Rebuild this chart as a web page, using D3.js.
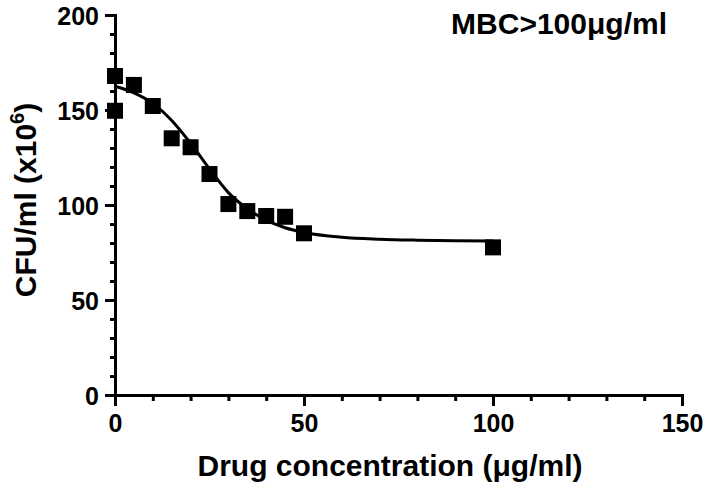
<!DOCTYPE html>
<html>
<head>
<meta charset="utf-8">
<script src="https://cdn.jsdelivr.net/npm/d3@7"></script>
<style>
  html, body { margin: 0; padding: 0; background: #fff; }
  svg text { font-family: "Liberation Sans", Arial, sans-serif; font-weight: bold; fill: #000; }
</style>
</head>
<body>
<svg id="chart" width="708" height="489"></svg>
<script>
// ---- data ----
const drugConc = [0, 0, 5, 10, 15, 20, 25, 30, 35, 40, 45, 50, 100];
const cfuValues = [167.9, 149.6, 163.2, 152.1, 135.1, 130.4, 116.3, 100.5, 96.8, 94.2, 93.8, 85.1, 77.7];
// fitted curve
const fitX = [0, 5, 10, 15, 20, 25, 30, 35, 40, 45, 50, 60, 70, 80, 90, 100];
const fitY = [162.5, 159, 153.5, 144.5, 132.5, 119, 106.5, 98, 92, 88, 85.5, 83, 82, 81.5, 81.2, 81];
const xTickValues = [0, 50, 100, 150];
const yTickValues = [0, 50, 100, 150, 200];
const xMinorTicks = d3.range(0, 151, 10);
const yMinorTicks = d3.range(0, 201, 10);
const xTitle = "Drug concentration (μg/ml)";
const annotation = "MBC>100μg/ml";

const svg = d3.select("#chart");
const x = d3.scaleLinear().domain([0, 150]).range([115, 682]);
const y = d3.scaleLinear().domain([0, 200]).range([395, 15]);

// minor ticks
svg.append("g").attr("transform", `translate(0,${y(0)})`)
  .call(d3.axisBottom(x).tickValues(xMinorTicks).tickSize(6).tickFormat(""))
  .call(g => { g.select(".domain").remove(); g.selectAll("line").attr("stroke-width", 3); });
svg.append("g").attr("transform", `translate(${x(0)},0)`)
  .call(d3.axisLeft(y).tickValues(yMinorTicks).tickSize(5).tickFormat(""))
  .call(g => { g.select(".domain").remove(); g.selectAll("line").attr("stroke-width", 3); });

// major axes
const xAxis = svg.append("g").attr("transform", `translate(0,${y(0)})`)
  .call(d3.axisBottom(x).tickValues(xTickValues).tickSize(11).tickSizeOuter(0).tickPadding(8));
const yAxis = svg.append("g").attr("transform", `translate(${x(0)},0)`)
  .call(d3.axisLeft(y).tickValues(yTickValues).tickSize(10).tickSizeOuter(0).tickPadding(6));
[xAxis, yAxis].forEach(g => {
  g.attr("font-size", 25).attr("font-family", "Liberation Sans, Arial, sans-serif");
  g.select(".domain").attr("stroke-width", 3).attr("stroke-linecap", "square");
  g.selectAll(".tick line").attr("stroke-width", 3);
  g.selectAll(".tick text").attr("font-size", 25).attr("font-weight", "bold");
});
yAxis.selectAll(".tick text").attr("dy", "0.36em");

// fitted curve
const line = d3.line().x(d => x(d[0])).y(d => y(d[1])).curve(d3.curveMonotoneX);
svg.append("path")
  .datum(fitX.map((v, i) => [v, fitY[i]]))
  .attr("d", line).attr("fill", "none").attr("stroke", "#000").attr("stroke-width", 3);

// points
const sz = 16;
svg.append("g").selectAll("rect")
  .data(drugConc.map((v, i) => [v, cfuValues[i]]))
  .join("rect")
  .attr("x", d => x(d[0]) - sz / 2).attr("y", d => y(d[1]) - sz / 2)
  .attr("width", sz).attr("height", sz).attr("fill", "#000");

// axis titles
svg.append("text").attr("x", 390).attr("y", 476).attr("text-anchor", "middle")
  .attr("font-size", 30).text(xTitle);

const yt = svg.append("text").attr("transform", `translate(36,200) rotate(-90)`)
  .attr("text-anchor", "middle").attr("font-size", 30);
yt.append("tspan").text("CFU/ml (x10");
yt.append("tspan").attr("font-size", 20).attr("dy", -12).text("6");
yt.append("tspan").attr("dy", 12).text(")");

// annotation
svg.append("text").attr("x", 667).attr("y", 34).attr("text-anchor", "end")
  .attr("font-size", 30).text(annotation);
</script>
</body>
</html>
